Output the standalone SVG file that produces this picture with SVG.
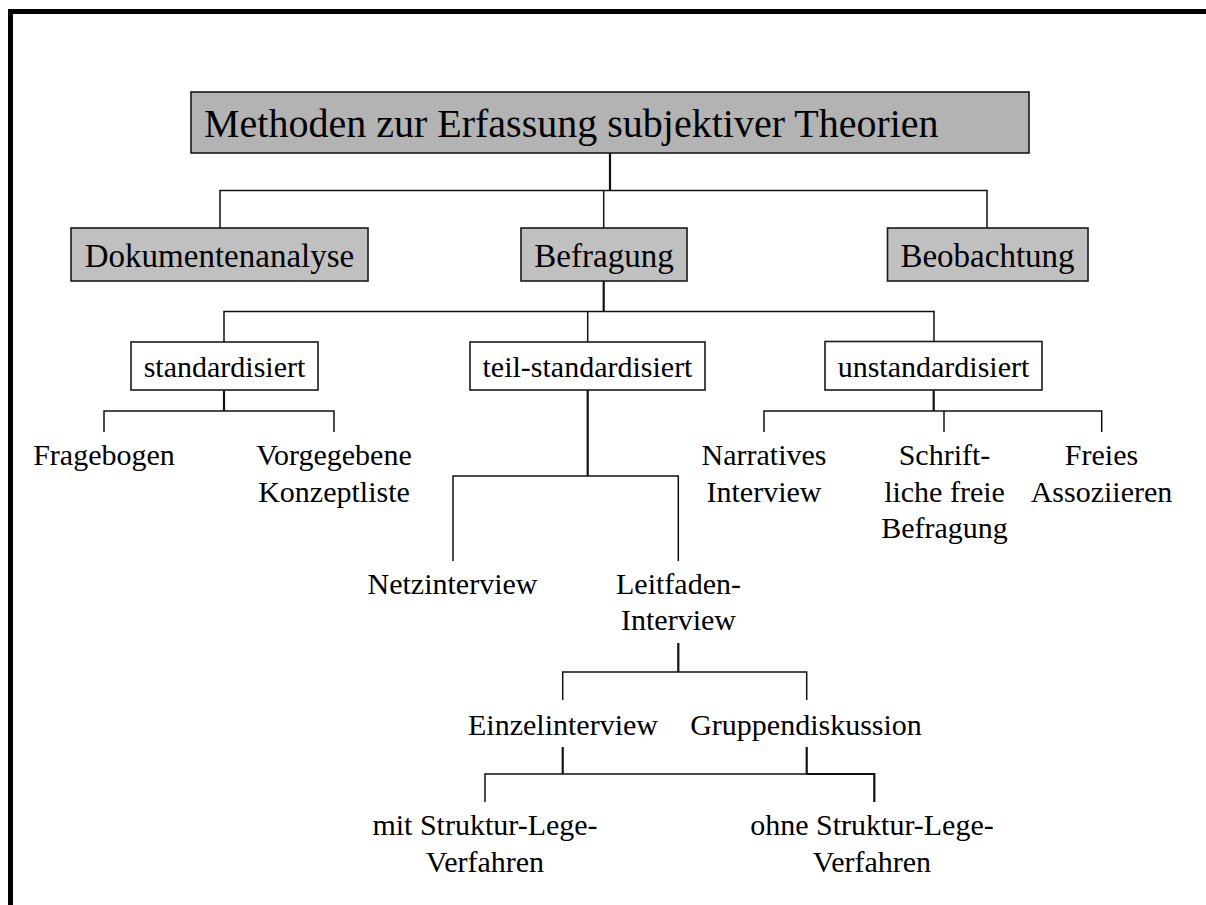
<svg xmlns="http://www.w3.org/2000/svg" width="1206" height="905" viewBox="0 0 1206 905">
  <style>
    text { font-family: "Liberation Serif", "Times New Roman", serif; fill: #000; text-anchor: middle; }
    .t1 { font-size: 40px; text-anchor: start; }
    .t2 { font-size: 33px; }
    .t3 { font-size: 30px; }
    .box-main { fill: #b3b3b3; stroke: #1a1a1a; stroke-width: 1.6; }
    .box-cat { fill: #c0c0c0; stroke: #1a1a1a; stroke-width: 1.6; }
    .box-sub { fill: #fff; stroke: #1a1a1a; stroke-width: 1.6; }
    .ln { fill: none; stroke: #111; stroke-width: 1.5; }
    .lnb { fill: none; stroke: #111; stroke-width: 2.2; }
  </style>

  <!-- page frame: top and left edges only -->
  <rect x="8" y="9" width="1198" height="5" fill="#000"/>
  <rect x="8" y="9" width="5" height="896" fill="#000"/>

  <g id="connectors">
    <!-- root to level 2 -->
    <path class="lnb" d="M610 153 V190.5"/>
    <path class="ln" d="M220 228 V190.5 H987 V228"/>
    <path class="ln" d="M603.7 190.5 V228"/>
    <!-- Befragung to interview types -->
    <path class="lnb" d="M603.7 281 V311.5"/>
    <path class="ln" d="M224 342 V311.5 H934 V342"/>
    <path class="ln" d="M587.7 311.5 V342"/>
    <!-- standardisiert -->
    <path class="lnb" d="M224 390 V411"/>
    <path class="ln" d="M104 432 V411 H334 V432"/>
    <!-- teil-standardisiert -->
    <path class="lnb" d="M587.7 390 V476"/>
    <path class="ln" d="M453 561 V476 H678.3 V561"/>
    <!-- unstandardisiert -->
    <path class="lnb" d="M933.7 390 V411"/>
    <path class="ln" d="M764 432 V411 H1101.7 V432"/>
    <path class="ln" d="M944 411 V432"/>
    <!-- Leitfaden-Interview -->
    <path class="lnb" d="M678.3 643 V672"/>
    <path class="ln" d="M562.7 700 V672 H806.7 V700"/>
    <!-- Einzelinterview / Gruppendiskussion -->
    <path class="lnb" d="M562.7 747 V774"/>
    <path class="lnb" d="M806.7 747 V774"/>
    <path class="ln" d="M485 802 V774 H874.3"/>
    <path class="lnb" d="M806.7 774 H874.3 V802"/>
  </g>

  <g id="root">
    <rect class="box-main" x="191" y="92" width="838" height="61"/>
    <text class="t1" x="204" y="137">Methoden zur Erfassung subjektiver Theorien</text>
  </g>

  <g id="dokumentenanalyse">
    <rect class="box-cat" x="71" y="228" width="297" height="53"/>
    <text class="t2" x="219.5" y="267">Dokumentenanalyse</text>
  </g>
  <g id="befragung">
    <rect class="box-cat" x="521" y="228" width="166" height="53"/>
    <text class="t2" x="604" y="267">Befragung</text>
  </g>
  <g id="beobachtung">
    <rect class="box-cat" x="887.5" y="228" width="200.5" height="53"/>
    <text class="t2" x="987.5" y="267">Beobachtung</text>
  </g>

  <g id="standardisiert">
    <rect class="box-sub" x="131" y="342" width="187" height="48"/>
    <text class="t3" x="224.5" y="377">standardisiert</text>
  </g>
  <g id="teil-standardisiert">
    <rect class="box-sub" x="470" y="342" width="235" height="48"/>
    <text class="t3" x="587.5" y="377">teil-standardisiert</text>
  </g>
  <g id="unstandardisiert">
    <rect class="box-sub" x="825" y="341.5" width="217" height="48.5"/>
    <text class="t3" x="933.5" y="377">unstandardisiert</text>
  </g>

  <g id="fragebogen">
    <text class="t3" x="104" y="465">Fragebogen</text>
  </g>
  <g id="konzeptliste">
    <text class="t3" x="334" y="465">Vorgegebene</text>
    <text class="t3" x="334" y="501.5">Konzeptliste</text>
  </g>

  <g id="narratives-interview">
    <text class="t3" x="764" y="465">Narratives</text>
    <text class="t3" x="764" y="501.5">Interview</text>
  </g>
  <g id="schriftliche-befragung">
    <text class="t3" x="944.5" y="465">Schrift-</text>
    <text class="t3" x="944.5" y="501.5">liche freie</text>
    <text class="t3" x="944.5" y="538">Befragung</text>
  </g>
  <g id="freies-assoziieren">
    <text class="t3" x="1101.5" y="465">Freies</text>
    <text class="t3" x="1101.5" y="501.5">Assoziieren</text>
  </g>

  <g id="netzinterview">
    <text class="t3" x="452.5" y="594">Netzinterview</text>
  </g>
  <g id="leitfaden-interview">
    <text class="t3" x="678.5" y="594">Leitfaden-</text>
    <text class="t3" x="678.5" y="630">Interview</text>
  </g>

  <g id="einzelinterview">
    <text class="t3" x="563" y="735">Einzelinterview</text>
  </g>
  <g id="gruppendiskussion">
    <text class="t3" x="806" y="735">Gruppendiskussion</text>
  </g>

  <g id="mit-slt">
    <text class="t3" x="485" y="835">mit Struktur-Lege-</text>
    <text class="t3" x="485" y="871.5">Verfahren</text>
  </g>
  <g id="ohne-slt">
    <text class="t3" x="872" y="835">ohne Struktur-Lege-</text>
    <text class="t3" x="872" y="871.5">Verfahren</text>
  </g>
</svg>
